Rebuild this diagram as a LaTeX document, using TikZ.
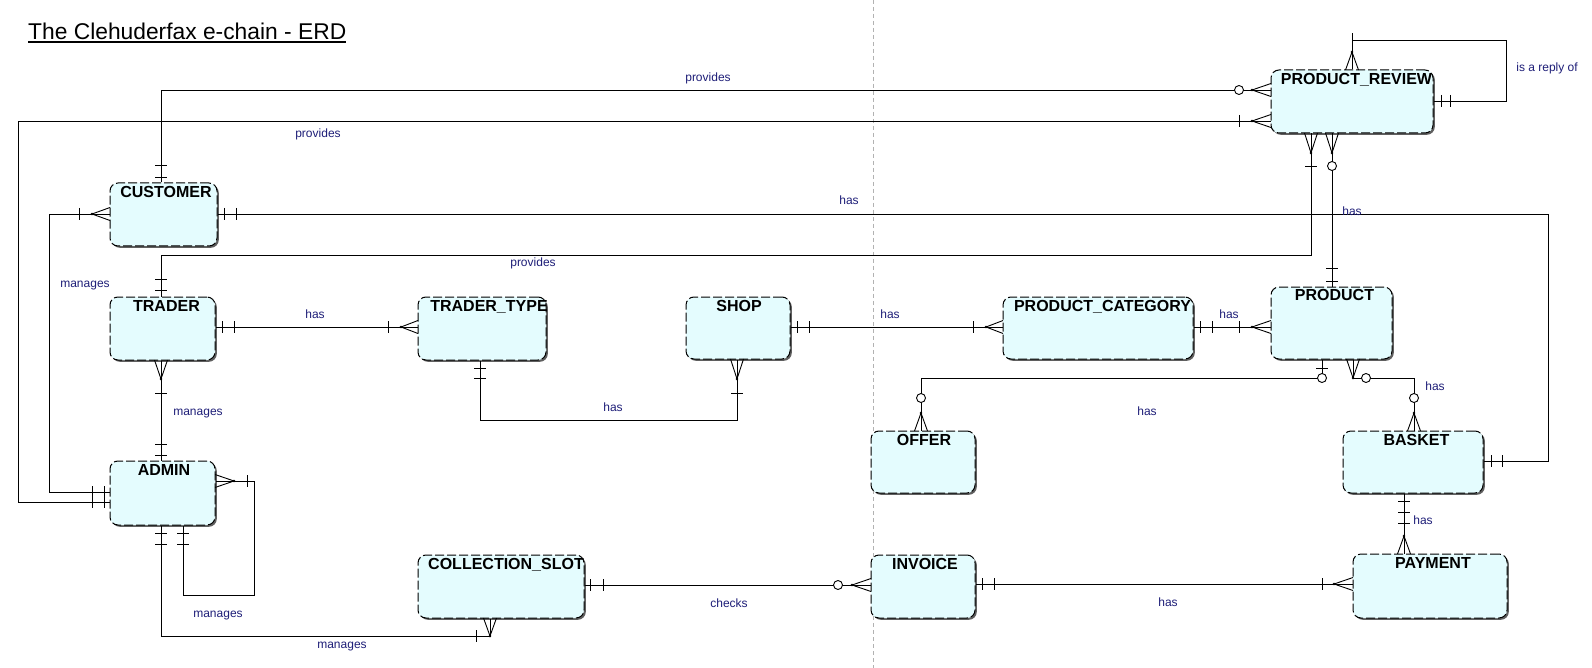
\documentclass[tikz,border=0pt]{standalone}
\usepackage{fontspec}
\setmainfont{Liberation Sans}
\usetikzlibrary{shadows}
\definecolor{entfill}{RGB}{228,252,254}
\definecolor{relcol}{RGB}{30,30,120}
\definecolor{shadowcol}{RGB}{95,95,95}
\tikzset{
  conn/.style={line width=0.9pt, draw=black},
  entity/.style={draw=black, line width=1pt, dash pattern=on 9pt off 3pt, fill=entfill,
    rounded corners=8pt, inner sep=0pt,
    drop shadow={shadow xshift=1.8pt, shadow yshift=-1.8pt, fill=shadowcol, opacity=1}},
  ename/.style={anchor=north, inner sep=0pt, font=\fontsize{16}{18}\selectfont\bfseries},
  rel/.style={inner sep=0pt, text=relcol, font=\fontsize{12}{14}\selectfont},
}
\newcommand\mkbarx[2]{\draw[conn] (#1,#2) ++(0,-6) -- ++(0,12);}
\newcommand\mkbary[2]{\draw[conn] (#1,#2) ++(-6,0) -- ++(12,0);}
\newcommand\mkring[2]{\draw[conn,fill=white] (#1,#2) circle[radius=4.5pt];}
\newcommand\mkcrowx[3]{\draw[conn] (#2,{#3-6.5}) -- (#1,#3) -- (#2,{#3+6.5}); \fill (#1,#3) circle[radius=1.3pt];}
\newcommand\mkcrowy[3]{\draw[conn] ({#3-6.5},#2) -- (#3,#1) -- ({#3+6.5},#2); \fill (#3,#1) circle[radius=1.3pt];}
\begin{document}
\begin{tikzpicture}[x=1pt,y=-1pt]
\fill[white] (0,0) rectangle (1592,668);
\useasboundingbox (0,0) rectangle (1592,668);
\coordinate (gtop) at (873,0);
\coordinate (gbot) at (873,668);
\draw[black!30, dash pattern=on 4pt off 3pt, line width=0.6pt] (gtop) -- (gbot);

% title
\node[anchor=base west, inner sep=0pt, font=\fontsize{22.8}{26}\selectfont] (title) at (28,39.5) {The Clehuderfax e-chain - ERD};
\draw[line width=1.2pt] ([yshift=-2.6pt]title.base west) -- ([yshift=-2.6pt]title.base east);

% entities
\node[entity, minimum width=107pt, minimum height=63pt] (cust) at (163.5,214.5) {};
\node[entity, minimum width=105pt, minimum height=63pt] (trader) at (162.5,328.5) {};
\node[entity, minimum width=105pt, minimum height=64pt] (admin) at (162.5,493) {};
\node[entity, minimum width=128pt, minimum height=63pt] (ttype) at (482,328.5) {};
\node[entity, minimum width=104pt, minimum height=62pt] (shop) at (738,328) {};
\node[entity, minimum width=190pt, minimum height=62pt] (pcat) at (1098,328) {};
\node[entity, minimum width=121pt, minimum height=72pt] (prod) at (1331.5,323) {};
\node[entity, minimum width=162pt, minimum height=63pt] (prev) at (1352,101.5) {};
\node[entity, minimum width=104pt, minimum height=62pt] (offer) at (923,462) {};
\node[entity, minimum width=140pt, minimum height=62pt] (basket) at (1413,462) {};
\node[entity, minimum width=166pt, minimum height=63pt] (cslot) at (501,586.5) {};
\node[entity, minimum width=104pt, minimum height=63pt] (invoice) at (923,586.5) {};
\node[entity, minimum width=154pt, minimum height=64pt] (payment) at (1430,586) {};

\node[ename] (cust-t) at ([xshift=2.5pt,yshift=-3.5pt]cust.north) {CUSTOMER};
\node[ename] (trader-t) at ([xshift=4pt,yshift=-3.5pt]trader.north) {TRADER};
\node[ename] (admin-t) at ([xshift=1.5pt,yshift=-3.5pt]admin.north) {ADMIN};
\node[ename] (ttype-t) at ([xshift=7pt,yshift=-3.5pt]ttype.north) {TRADER\_TYPE};
\node[ename] (shop-t) at ([xshift=1pt,yshift=-3.5pt]shop.north) {SHOP};
\node[ename] (pcat-t) at ([xshift=4.5pt,yshift=-3.5pt]pcat.north) {PRODUCT\_CATEGORY};
\node[ename] (prod-t) at ([xshift=3pt,yshift=-3pt]prod.north) {PRODUCT};
\node[ename] (prev-t) at ([xshift=4.5pt,yshift=-3.5pt]prev.north) {PRODUCT\_REVIEW};
\node[ename] (offer-t) at ([xshift=1pt,yshift=-3.5pt]offer.north) {OFFER};
\node[ename] (basket-t) at ([xshift=3.5pt,yshift=-3.5pt]basket.north) {BASKET};
\node[ename] (cslot-t) at ([xshift=5pt,yshift=-3.5pt]cslot.north) {COLLECTION\_SLOT};
\node[ename] (invoice-t) at ([xshift=2pt,yshift=-3.5pt]invoice.north) {INVOICE};
\node[ename] (payment-t) at ([xshift=3pt,yshift=-3.5pt]payment.north) {PAYMENT};

% 1 CUSTOMER - PRODUCT_REVIEW provides
\draw[conn] (cust.north -| 161,0) |- (prev.west |- 0,90);
\mkbary{161}{165}\mkbary{161}{177}
\mkring{1239}{90}\mkcrowx{1252}{1271}{90}
\node[rel] (l1) at (708,78) {provides};

% 2 ADMIN - PRODUCT_REVIEW provides
\draw[conn] (admin.west |- 0,502) -| (18,121) -- (prev.west |- 0,121);
\mkbarx{92}{502}\mkbarx{104}{502}
\mkbarx{1239}{121}\mkcrowx{1252}{1271}{121}
\node[rel] (l2) at (318,134) {provides};

% 3 CUSTOMER - BASKET has
\draw[conn] (cust.east |- 0,214) -| (1548,461) -- (basket.east |- 0,461);
\mkbarx{224}{214}\mkbarx{236}{214}\mkbarx{1491}{461}\mkbarx{1502}{461}
\node[rel] (l3) at (849,200) {has};

% 4 TRADER - PRODUCT_REVIEW provides
\draw[conn] (trader.north -| 161,0) |- (1311,255) -- (prev.south -| 1311,0);
\mkbary{161}{279}\mkbary{161}{290}
\mkcrowy{153}{133}{1311}\mkbary{1311}{166}
\node[rel] (l4) at (533,263) {provides};

% 5 PRODUCT - PRODUCT_REVIEW has
\draw[conn] (prod.north -| 1332,0) -- (prev.south -| 1332,0);
\mkbary{1332}{268}\mkbary{1332}{281}
\mkcrowy{153}{133}{1332}\mkring{1332}{166}
\node[rel] (l5) at (1352,211) {has};

% 6 PRODUCT_REVIEW self
\coordinate (loopA) at (1352,33);
\draw[conn] (prev.north -| 1352,0) -- (loopA);
\draw[conn] (1352,40) -| (1506,101) -- (prev.east |- 0,101);
\mkcrowy{52}{70}{1352}
\mkbarx{1441}{101}\mkbarx{1450}{101}
\node[rel] (l6) at (1547,68) {is a reply of};

% 7 CUSTOMER - ADMIN manages
\draw[conn] (cust.west |- 0,214) -| (49,492) -- (admin.west |- 0,492);
\mkcrowx{92}{110}{214}\mkbarx{79}{214}
\mkbarx{92}{492}\mkbarx{104}{492}
\node[rel] (l7) at (85,286) {manages};

% 8 TRADER - TRADER_TYPE has
\draw[conn] (trader.east |- 0,327) -- (ttype.west |- 0,327);
\mkbarx{222}{327}\mkbarx{234}{327}\mkbarx{388}{327}\mkcrowx{401}{418}{327}
\node[rel] (l8) at (315,314) {has};

% 9 TRADER - ADMIN manages
\draw[conn] (trader.south -| 161,0) -- (admin.north -| 161,0);
\mkcrowy{379}{360}{161}\mkbary{161}{393}\mkbary{161}{444}\mkbary{161}{455}
\node[rel] (l9) at (198,414) {manages};

% 10 TRADER_TYPE - SHOP has
\draw[conn] (ttype.south -| 480,0) |- (737,420) -- (shop.south -| 737,0);
\mkbary{480}{368}\mkbary{480}{378}
\mkcrowy{379}{359}{737}\mkbary{737}{393}
\node[rel] (l10) at (613,407) {has};

% 11 SHOP - PRODUCT_CATEGORY has
\draw[conn] (shop.east |- 0,327) -- (pcat.west |- 0,327);
\mkbarx{797}{327}\mkbarx{809}{327}\mkbarx{973}{327}\mkcrowx{986}{1003}{327}
\node[rel] (l11) at (890,314) {has};

% 12 PRODUCT_CATEGORY - PRODUCT has
\draw[conn] (pcat.east |- 0,327) -- (prod.west |- 0,327);
\mkbarx{1200}{327}\mkbarx{1212}{327}\mkbarx{1239}{327}\mkcrowx{1252}{1271}{327}
\node[rel] (l12) at (1229,314) {has};

% 13 PRODUCT - OFFER has
\draw[conn] (prod.south -| 1322,0) |- (921,378) -- (offer.north -| 921,0);
\mkbary{1322}{368}\mkring{1322}{378}
\mkring{921}{398}\mkcrowy{413}{431}{921}
\node[rel] (l13) at (1147,411) {has};

% 14 PRODUCT - BASKET has
\draw[conn] (prod.south -| 1353,0) |- (1414,378) -- (basket.north -| 1414,0);
\mkcrowy{378}{359}{1353}\mkring{1366}{378}
\mkring{1414}{398}\mkcrowy{413}{431}{1414}
\node[rel] (l14) at (1435,386) {has};

% 15 BASKET - PAYMENT has
\draw[conn] (basket.south -| 1404,0) -- (payment.north -| 1404,0);
\mkbary{1404}{501}\mkbary{1404}{512}\mkbary{1404}{523}\mkcrowy{536}{554}{1404}
\node[rel] (l15) at (1423,520) {has};

% 16 ADMIN self manages
\draw[conn] (admin.east |- 0,481) -| (254,595) -| (admin.south -| 183,0);
\mkcrowx{234}{215}{481}\mkbarx{247}{481}
\mkbary{183}{533}\mkbary{183}{544}
\node[rel] (l16) at (218,616) {manages};

% 17 ADMIN - COLLECTION_SLOT manages
\draw[conn] (admin.south -| 161,0) |- (490,636) -- (cslot.south -| 490,0);
\mkbary{161}{533}\mkbary{161}{544}
\mkbarx{476}{636}\mkcrowy{636}{618}{490}
\node[rel] (l17) at (342,647) {manages};

% 18 COLLECTION_SLOT - INVOICE checks
\draw[conn] (cslot.east |- 0,585) -- (invoice.west |- 0,585);
\mkbarx{590}{585}\mkbarx{603}{585}\mkring{838}{585}\mkcrowx{852}{871}{585}
\node[rel] (l18) at (729,603) {checks};

% 19 INVOICE - PAYMENT has
\draw[conn] (invoice.east |- 0,584) -- (payment.west |- 0,584);
\mkbarx{982}{584}\mkbarx{994}{584}\mkbarx{1322}{584}\mkcrowx{1334}{1353}{584}
\node[rel] (l19) at (1168,602) {has};
\end{tikzpicture}
\end{document}
